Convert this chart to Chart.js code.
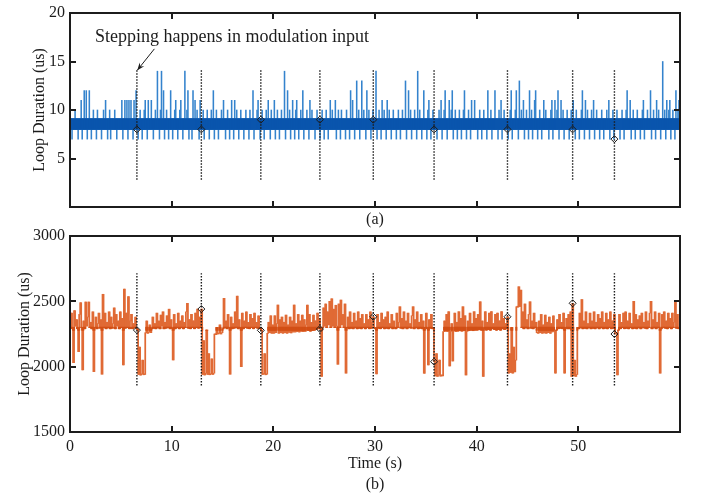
<!DOCTYPE html>
<html><head><meta charset="utf-8">
<script src="https://cdn.jsdelivr.net/npm/chart.js@4.4.1/dist/chart.umd.min.js"></script>
<style>
html,body{margin:0;padding:0;background:#fff;}
#wrap{position:relative;width:701px;height:498px;overflow:hidden;background:#fff}
canvas{position:absolute;left:0}
#cA{top:0}
#cB{top:220px}
</style></head><body>
<div id="wrap"><canvas id="cA" width="701" height="232"></canvas><canvas id="cB" width="701" height="278"></canvas></div>
<script>
// ---------- data ----------
const sampleStep = 0.1; // s between samples
const xTicks = [0, 10, 20, 30, 40, 50];
const yTicksTop = [5, 10, 15, 20];
const yTicksBottom = [1500, 2000, 2500, 3000];
const stepTimes = [6.58, 12.92, 18.77, 24.58, 29.83, 35.81, 43.03, 49.44, 53.55];
const stepMarkTop = [8, 8, 9, 9, 9, 8, 8, 8, 7];
const stepMarkBottom = [2280, 2441, 2278, 2288, 2382, 2038, 2382, 2485, 2250];
const stepSpanTop = [2.8, 14.2];
const stepSpanBottom = [1855, 2715];
// level range the trace sits in almost all the time (drawn solid)
const coreTop = [8, 9.1];
const coreBottom = [2278, 2302];

// top: peak excursion of the trace from the 8-9 us band in each 0.1 s slot
const loopTopUs = [
 8,9,7,9,8,10,8,9,7,9,
 9,11,7,8,12,8,12,7,9,12,
 8,7,9,10,8,9,7,10,9,8,
 9,7,8,10,8,11,8,7,9,10,
 7,9,8,9,10,8,7,9,8,9,
 8,11,7,9,11,9,11,7,11,9,
 11,8,7,11,9,12,8,7,9,10,
 9,7,8,10,11,8,7,11,9,8,
 11,9,7,8,10,8,14,9,7,10,
 14,8,12,7,9,10,8,7,9,12,
 8,7,9,10,11,9,7,8,10,11,
 9,7,8,14,8,10,12,7,9,8,
 7,12,8,11,9,10,8,7,11,9,
 8,10,7,9,8,10,9,7,8,10,
 9,12,7,8,10,9,7,8,9,10,
 8,11,9,7,8,10,9,7,8,11,
 9,7,11,8,10,9,7,8,10,9,
 8,7,9,10,8,9,7,10,8,9,
 12,7,8,9,10,11,8,7,9,10,
 8,7,9,10,8,11,9,7,10,8,
 9,11,7,8,10,9,7,8,10,9,
 8,14,7,9,12,8,10,7,9,11,
 8,7,10,11,9,7,8,10,9,12,
 7,9,8,10,9,7,11,8,10,9,
 8,7,9,10,8,9,7,8,10,9,
 7,8,10,9,7,8,11,9,10,8,
 9,11,7,8,10,9,7,10,8,9,
 8,7,10,9,8,7,12,9,11,8,
 7,9,13,8,10,7,9,13,8,10,
 9,7,12,8,10,9,7,8,10,9,
 8,14,7,9,10,8,7,11,9,10,
 8,7,11,9,10,8,7,9,10,8,
 9,7,8,10,9,7,8,10,9,8,
 13,7,9,12,8,10,7,9,8,10,
 9,7,14,8,10,9,7,8,12,9,
 8,7,10,11,9,7,8,10,9,8,
 9,7,8,10,9,11,7,8,10,12,
 8,7,9,11,8,10,12,7,9,10,
 8,7,9,10,8,7,9,10,12,9,
 7,8,10,9,7,11,8,9,11,8,
 9,7,8,10,9,7,8,10,9,8,
 7,12,9,8,10,7,9,8,12,9,
 8,7,10,9,11,7,8,10,9,8,
 9,7,8,10,12,7,9,8,10,12,
 8,7,13,9,10,8,11,7,9,10,
 8,7,12,9,10,7,8,11,12,9,
 7,8,10,9,7,8,11,9,10,8,
 9,7,8,10,11,7,9,11,8,10,
 12,7,9,11,8,10,7,9,8,10,
 8,7,9,10,8,11,9,7,10,8,
 9,7,8,10,12,9,7,11,8,10,
 8,7,9,10,8,11,7,9,10,8,
 9,7,8,10,9,7,8,9,10,8,
 11,7,9,8,10,7,8,9,10,8,
 9,7,8,10,9,7,8,10,12,9,
 8,11,7,9,10,8,7,9,10,8,
 9,7,8,10,11,7,9,8,10,9,
 8,12,7,9,10,8,7,11,9,10,
 8,7,9,15,8,10,7,11,9,10,
 11,7,9,10,8,7,12,9,10,11
];

const loopBottomUs = [
 2300,2410,2290,2030,2430,2310,2360,2290,2115,2400,
 2490,2300,1975,2350,2290,2495,2310,2380,2495,2300,
 2340,2290,2420,1962,2300,2380,2290,2330,2410,2295,
 2360,1942,2554,2300,2410,2290,2340,2300,2420,2290,
 2380,2295,2330,2450,2290,2400,2310,2350,2290,2420,
 2300,2370,2013,2594,2295,2410,2300,2536,2290,2350,
 2400,2290,2330,2300,2380,2290,2285,1940,2150,1935,
 1945,2050,1938,1940,2260,2350,2255,2265,2320,2260,
 2290,2380,2295,2330,2290,2410,2300,2350,2290,2395,
 2310,2420,2290,2340,2295,2390,2300,2440,2290,2360,
 2295,2051,2400,2290,2330,2300,2410,2290,2350,2300,
 2390,2290,2340,2300,2420,2485,2295,2360,2290,2400,
 2300,2350,2290,2410,2300,2440,2295,2380,2300,2441,
 1940,2200,1936,1950,2280,1940,2100,1938,1945,2060,
 1940,1950,2250,2245,2300,2250,2255,2320,2250,2260,
 2290,2523,2300,2350,2290,2400,2300,1942,2380,2290,
 2330,2295,2420,2300,2540,2290,2360,2300,2000,2410,
 2290,2350,2300,2420,2295,2340,2290,2400,2300,2370,
 2290,2410,2300,2340,2295,2390,2290,2300,2278,1940,
 1945,2100,1938,1942,2255,2340,2260,2390,2255,2320,
 2255,2390,2260,2330,2472,2255,2360,2260,2380,2255,
 2340,2260,2395,2255,2320,2262,2380,2258,2350,2265,
 2472,2265,2330,2268,2400,2265,2350,2270,2395,2268,
 2360,2270,2320,2472,2275,2400,2270,2340,2275,2395,
 2280,2350,2285,2410,2290,2370,2288,1925,2300,2450,
 2310,2480,2300,2420,2320,2500,2300,2520,2310,2440,
 2300,2470,2310,2018,2480,2300,2510,2320,2400,2300,
 2480,1950,2300,2380,2290,2420,2295,2340,2290,2410,
 2300,2350,2290,2420,2295,2370,2290,2400,2300,2330,
 2290,2400,2300,2360,2290,2420,2295,2340,2382,2300,
 2290,1944,2400,2295,2340,2290,2410,2300,2360,2290,
 2380,2295,2420,2290,2330,2300,2400,2290,2350,2300,
 2290,2410,2300,2340,2459,2295,2370,2290,2420,2300,
 2350,2290,2410,2300,2330,2295,2390,2459,2290,2360,
 2300,2420,2290,2340,2295,2400,2290,2350,1949,2300,
 2410,2290,2013,2360,2295,2400,2290,2300,2038,1930,
 2100,1925,1940,2050,1928,1935,1930,2268,2350,2270,
 2400,2268,2421,2005,2270,2330,2043,2275,2410,2268,
 2340,2270,2421,2275,2370,2270,2459,2275,2390,1936,
 2270,2350,2275,2410,2280,2330,2275,2421,2280,2370,
 2280,2400,2285,2497,2280,2350,1925,2290,2421,2280,
 2340,2285,2410,2280,2421,2290,2330,2285,2400,2280,
 2410,2285,2350,2280,2421,2290,2370,2285,2330,2290,
 2382,1950,2100,1955,2300,1950,2150,1960,2050,2459,
 2455,2612,2460,2586,2300,2420,2290,2480,2300,2360,
 2290,2400,2497,2295,2350,2290,2410,2300,2340,2260,
 2255,2350,2260,2400,2255,2320,2258,2395,2255,2340,
 2260,2380,2255,2330,2265,2390,2270,1950,2280,2360,
 2290,2400,2295,2340,2290,2410,1950,2300,2370,2290,
 2400,2290,2420,1925,2485,1930,2050,1925,1940,2300,
 2290,2410,2300,2514,2290,2350,2295,2420,2290,2330,
 2300,2410,2290,2350,2295,2420,2290,2340,2300,2400,
 2290,2370,2300,2420,2290,2340,2295,2410,2290,2360,
 2300,2420,2290,2350,2295,2400,2250,2260,1936,2280,
 2400,2290,2340,2300,2410,2290,2420,2295,2350,2290,
 2410,2300,2330,2290,2500,2295,2400,2290,2360,2300,
 2390,2290,2410,2300,2340,2295,2420,2290,2350,2300,
 2410,2500,2290,2360,2300,2420,2290,2340,2300,2410,
 1950,2290,2400,2300,2420,2295,2350,2290,2410,2300,
 2370,2290,2410,2300,2340,2500,2295,2400,2290,2290
];

const noteText = 'Stepping happens in modulation input';
const notePos = {x: 2.45, y: 17.0};
const arrowFrom = {x: 8.3, y: 16.3};
const arrowTo = {x: 6.62, y: 14.1};

// ---------- styling ----------
const FONT = "'Liberation Serif','Times New Roman',serif";
const INK = '#1c1c1c';
const BLUE_DARK = '#0a55ad', BLUE_LIGHT = '#3483cd';
const ORANGE_DARK = '#d24f16', ORANGE_LIGHT = '#e06a35';

const tX = i => Math.round(i * sampleStep * 100) / 100;
// bottom: vertical span the trace covers moving from the previous sample
function toSpans(vals) {
  return vals.map((v, i) => {
    const p = i === 0 ? v : vals[i - 1];
    return {x: tX(i), y: [Math.min(p, v), Math.max(p, v)]};
  });
}
// top: each slot spans from the band to its peak excursion
function toExcursions(vals, core) {
  return vals.map((v, i) => ({x: tX(i), y: [Math.min(v, core[0]), Math.max(v, core[1])]}));
}
function clipSpans(spans, core) {
  return spans.map(s => {
    const lo = Math.max(s.y[0], core[0]), hi = Math.min(s.y[1], core[1]);
    return {x: s.x, y: hi >= lo ? [lo, hi] : [NaN, NaN]};
  });
}

const frameTicks = {
  id: 'frameTicks',
  afterDraw(chart) {
    const {ctx, chartArea: a} = chart;
    const xs = chart.scales.x, ys = chart.scales.y;
    const L = 6;
    ctx.save();
    ctx.strokeStyle = INK;
    ctx.lineWidth = 2;
    ctx.beginPath();
    const xt = chart.options.xTickValues, yt = chart.options.yTickValues;
    xt.forEach(v => {
      const p = Math.round(xs.getPixelForValue(v));
      ctx.moveTo(p, a.bottom); ctx.lineTo(p, a.bottom - L);
      ctx.moveTo(p, a.top); ctx.lineTo(p, a.top + L);
    });
    yt.forEach(v => {
      const p = Math.round(ys.getPixelForValue(v));
      ctx.moveTo(a.left, p); ctx.lineTo(a.left + L, p);
      ctx.moveTo(a.right, p); ctx.lineTo(a.right - L, p);
    });
    ctx.stroke();
    ctx.strokeRect(a.left, a.top, a.right - a.left, a.bottom - a.top);
    ctx.restore();
  }
};

const noteArrow = {
  id: 'noteArrow',
  afterDraw(chart) {
    if (!chart.options.withNote) return;
    const {ctx} = chart;
    const xs = chart.scales.x, ys = chart.scales.y;
    ctx.save();
    ctx.font = '18px ' + FONT;
    ctx.fillStyle = INK;
    ctx.textBaseline = 'alphabetic';
    ctx.textAlign = 'left';
    ctx.fillText(noteText, xs.getPixelForValue(notePos.x), ys.getPixelForValue(notePos.y));
    const x1 = xs.getPixelForValue(arrowFrom.x), y1 = ys.getPixelForValue(arrowFrom.y);
    const x2 = xs.getPixelForValue(arrowTo.x), y2 = ys.getPixelForValue(arrowTo.y);
    ctx.strokeStyle = INK; ctx.lineWidth = 1;
    ctx.beginPath(); ctx.moveTo(x1, y1); ctx.lineTo(x2, y2); ctx.stroke();
    const ang = Math.atan2(y2 - y1, x2 - x1), h = 8;
    ctx.beginPath();
    ctx.moveTo(x2, y2);
    ctx.lineTo(x2 - h * Math.cos(ang - 0.38), y2 - h * Math.sin(ang - 0.38));
    ctx.lineTo(x2 - h * 0.6 * Math.cos(ang), y2 - h * 0.6 * Math.sin(ang));
    ctx.lineTo(x2 - h * Math.cos(ang + 0.38), y2 - h * Math.sin(ang + 0.38));
    ctx.closePath(); ctx.fill();
    ctx.restore();
  }
};

function buildChart(id, cfg) {
  const spans = cfg.mode === 'excursion' ? toExcursions(cfg.values, cfg.core) : toSpans(cfg.values);
  const coreBars = cfg.mode === 'excursion'
    ? cfg.values.map((v, i) => ({x: tX(i), y: [cfg.core[0], cfg.core[1]]}))
    : clipSpans(spans, cfg.core);
  const datasets = [];
  datasets.push({
    type: 'line',
    data: stepTimes.map((t, i) => ({x: t, y: cfg.marks[i]})),
    showLine: false, pointStyle: 'rectRot', pointRadius: 3.5,
    borderColor: INK, borderWidth: 1, backgroundColor: 'rgba(0,0,0,0)'
  });
  stepTimes.forEach(t => datasets.push({
    type: 'line',
    data: [{x: t, y: cfg.span[0]}, {x: t, y: cfg.span[1]}],
    borderColor: INK, borderWidth: 1.4, borderDash: [1.5, 1.5], pointRadius: 0
  }));
  datasets.push({
    type: 'bar', data: coreBars, backgroundColor: cfg.dark,
    borderWidth: 0, barThickness: 1.4, grouped: false, borderSkipped: false
  });
  datasets.push({
    type: 'bar', data: spans, backgroundColor: cfg.light,
    borderWidth: 0, barThickness: cfg.lightWidth, grouped: false, borderSkipped: false, minBarLength: 1
  });
  const tickFont = {family: FONT, size: 16, lineHeight: 1.0};
  return new Chart(document.getElementById(id), {
    type: 'line',
    data: {datasets},
    plugins: [frameTicks, noteArrow],
    options: {
      animation: false, responsive: false, devicePixelRatio: 1, events: [],
      withNote: cfg.withNote, xTickValues: xTicks, yTickValues: cfg.yTicks,
      layout: {padding: {top: cfg.padTop, right: 21, left: 0, bottom: 0}},
      plugins: {legend: {display: false}, tooltip: {enabled: false}},
      scales: {
        x: {
          type: 'linear', min: 0, max: 60, offset: false,
          grid: {display: false, drawTicks: false, offset: false}, border: {display: false},
          afterBuildTicks(s) { s.ticks = xTicks.map(v => ({value: v})); },
          ticks: {display: cfg.showX, font: tickFont, color: INK, padding: 7, maxRotation: 0, autoSkip: false,
                  callback: v => String(v)},
          title: {display: true, text: cfg.xTitle, color: INK,
                  font: {family: FONT, size: 16, lineHeight: 1.3125},
                  padding: {top: 0, bottom: cfg.xTitlePad}},
          afterFit(s) { s.height = cfg.xHeight; }
        },
        y: {
          type: 'linear', min: cfg.yMin, max: cfg.yMax,
          grid: {display: false, drawTicks: false}, border: {display: false},
          afterBuildTicks(s) { s.ticks = cfg.yTicks.map(v => ({value: v})); },
          ticks: {font: tickFont, color: INK, padding: 5, autoSkip: false, callback: v => String(v)},
          title: {display: true, text: 'Loop Duration (us)', color: INK,
                  font: {family: FONT, size: 16, lineHeight: 1.2},
                  padding: {top: cfg.yTitlePad, bottom: 0}},
          afterFit(s) { s.width = 70; }
        }
      }
    }
  });
}

buildChart('cA', {
  values: loopTopUs, mode: 'excursion', dark: BLUE_DARK, light: BLUE_LIGHT, core: coreTop, lightWidth: 0.9,
  marks: stepMarkTop, span: stepSpanTop,
  yMin: 0, yMax: 20, yTicks: yTicksTop, padTop: 9, xHeight: 25,
  showX: false, xTitle: '(a)', xTitlePad: 2, withNote: true, yTitlePad: 30
});
buildChart('cB', {
  values: loopBottomUs, mode: 'spans', dark: ORANGE_DARK, light: ORANGE_LIGHT, core: coreBottom, lightWidth: 1.1,
  marks: stepMarkBottom, span: stepSpanBottom,
  yMin: 1500, yMax: 3000, yTicks: yTicksBottom, padTop: 16, xHeight: 66,
  showX: true, xTitle: ['Time (s)', '(b)'], xTitlePad: 2.5, withNote: false, yTitlePad: 15
});
</script>
</body></html>
